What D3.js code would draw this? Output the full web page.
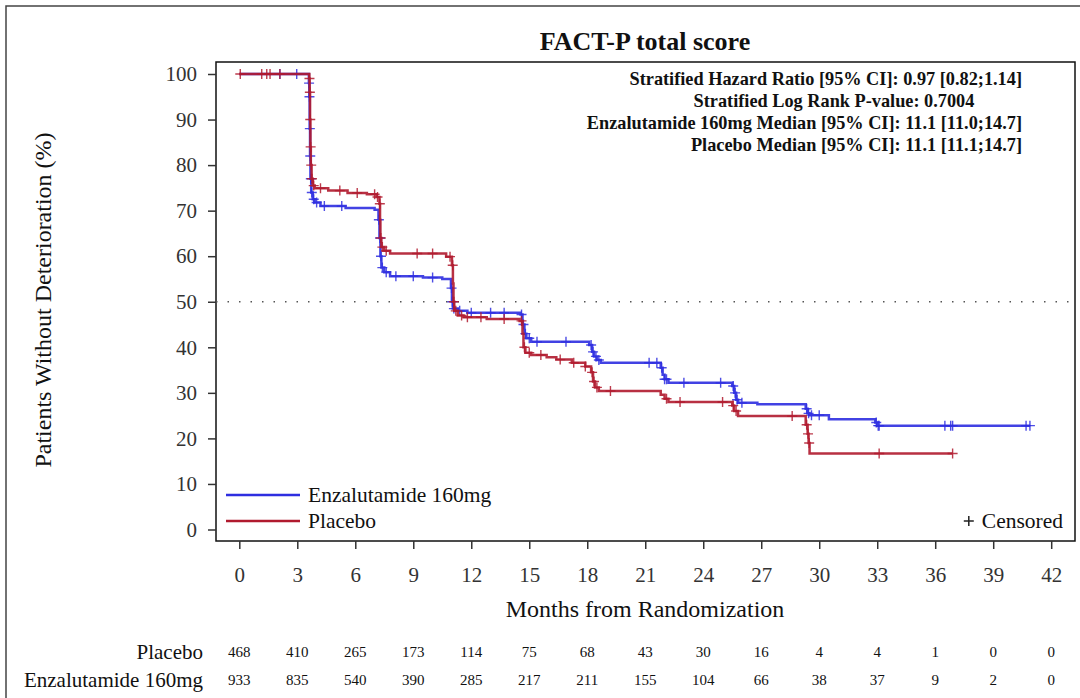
<!DOCTYPE html>
<html>
<head>
<meta charset="utf-8">
<script src="https://cdn.jsdelivr.net/npm/d3@7"></script>
<style>
  body { margin: 0; background: #fff; }
  svg text { font-family: "Liberation Serif", "Times New Roman", serif; }
</style>
</head>
<body>
<div id="container"></div>
<script>
// KM steps: [month, % without deterioration from that month on]
const placeboSteps = [[0,100],[3.62,99],[3.64,96],[3.66,90],[3.68,84],[3.70,80],[3.74,77],[3.8,75.5],[3.9,74.9],[4.6,74.4],[5.6,73.9],[6.6,73.6],[7.1,73.0],[7.25,71.5],[7.28,68],[7.30,64],[7.35,62],[7.5,61.2],[7.8,60.6],[10.7,59.9],[11.0,58],[11.05,54],[11.08,50],[11.12,48],[11.3,47.0],[11.6,46.6],[12.8,46.2],[14.5,45.8],[14.65,43],[14.7,40],[14.8,38.8],[15.1,38.3],[15.9,37.8],[16.4,37.3],[17.2,36.6],[17.9,35.8],[18.2,34.5],[18.3,32.5],[18.4,31.2],[18.6,30.4],[21.8,29.6],[22.0,28.7],[22.2,28.0],[25.5,27.2],[25.6,26],[25.8,24.9],[29.3,23],[29.4,21],[29.45,19],[29.5,16.7],[36.9,16.7]];
const enzaSteps = [[0,100],[3.6,98],[3.62,95],[3.64,88],[3.66,82],[3.68,77],[3.72,74],[3.8,72.5],[3.9,71.8],[4.2,71.0],[5.5,70.6],[7.0,70.2],[7.2,68],[7.25,64],[7.3,60],[7.35,57.5],[7.5,56.5],[7.8,55.6],[9.5,55.3],[10.5,55.0],[10.95,53],[11.0,50],[11.05,48.5],[11.3,48.0],[11.8,47.6],[14.55,47.2],[14.65,45],[14.75,43],[14.85,42],[15.1,41.2],[18.1,40.5],[18.25,39],[18.35,38],[18.5,37.2],[18.7,36.6],[21.8,35.5],[21.9,34],[22.0,33],[22.2,32.2],[25.5,31.5],[25.6,30],[25.7,28.5],[25.8,27.8],[26.8,27.5],[29.3,26.5],[29.4,25.5],[29.5,25.1],[30.5,24.2],[32.9,23.5],[33.0,22.8],[40.9,22.8]];
// censoring times (months)
const placeboCensor = [0.05,1.16,1.42,1.59,2.1,3.63,3.65,3.67,3.69,3.72,3.76,3.85,4.2,5.2,6.1,7.0,7.15,7.27,7.32,7.4,7.6,9.2,10.0,10.9,11.04,11.1,11.2,11.5,11.8,12.5,13.7,14.6,14.75,15.0,15.6,16.6,17.3,17.9,18.25,18.35,18.5,19.2,22.1,22.8,25.0,25.55,25.7,28.6,29.35,29.42,29.48,33.1,36.9];
const enzaCensor = [2.1,2.97,3.61,3.63,3.65,3.67,3.7,3.75,3.85,4.0,4.4,5.3,7.22,7.28,7.33,7.4,7.6,8.1,9.0,10.0,10.98,11.02,11.1,11.4,12.0,13.0,13.7,14.6,14.7,14.8,15.0,15.4,16.9,18.2,18.3,18.45,18.6,21.2,21.6,21.85,22.0,22.1,23.0,24.9,25.55,25.65,25.75,26.0,29.35,29.45,29.6,30.0,32.95,33.05,33.1,36.5,36.8,36.9,40.7,40.9];
// numbers at risk
const xTicks = [0,3,6,9,12,15,18,21,24,27,30,33,36,39,42];
const yTicks = [0,10,20,30,40,50,60,70,80,90,100];
const placeboRisk = [468,410,265,173,114,75,68,43,30,16,4,4,1,0,0];
const enzaRisk = [933,835,540,390,285,217,211,155,104,66,38,37,9,2,0];
const statLines = ["Stratified Hazard Ratio [95% CI]: 0.97 [0.82;1.14]",
                   "Stratified Log Rank P-value: 0.7004",
                   "Enzalutamide 160mg Median [95% CI]: 11.1 [11.0;14.7]",
                   "Placebo Median [95% CI]: 11.1 [11.1;14.7]"];

const w = 1080, h = 698;
const blue = "#2e2ee0", red = "#b01a2e";
const svg = d3.select("#container").append("svg").attr("width", w).attr("height", h);

// outer border
svg.append("rect").attr("x",6).attr("y",6).attr("width",1090).attr("height",700)
   .attr("fill","none").attr("stroke","#444").attr("stroke-width",1.5);

const frame = {l:216, r:1075, t:62, b:541};
const xScale = d3.scaleLinear().domain([0,42]).range([239.3, 1051.2]);
const yScale = d3.scaleLinear().domain([0,100]).range([529.5, 74]);

// title
svg.append("text").text("FACT-P total score").attr("x",645).attr("y",50)
   .attr("text-anchor","middle").style("font-size","26px").style("font-weight","bold").attr("fill","#111");

// frame
svg.append("rect").attr("x",frame.l).attr("y",frame.t).attr("width",frame.r-frame.l).attr("height",frame.b-frame.t)
   .attr("fill","none").attr("stroke","#111").attr("stroke-width",1.5);

// axes
const yAxis = d3.axisLeft(yScale).tickValues(yTicks).tickSize(8).tickPadding(11);
const gy = svg.append("g").attr("transform","translate("+frame.l+",0)").call(yAxis);
const xAxis = d3.axisBottom(xScale).tickValues(xTicks).tickSize(8).tickPadding(18);
const gx = svg.append("g").attr("transform","translate(0,"+frame.b+")").call(xAxis);
[gy, gx].forEach(g => {
  g.select(".domain").remove();
  g.selectAll(".tick line").attr("stroke","#333").attr("stroke-width",1.5);
  g.selectAll(".tick text").attr("fill","#333").style("font-size","21px")
   .style("font-family","'Liberation Serif', serif");
});

// axis labels
svg.append("text").text("Patients Without Deterioration (%)")
   .attr("transform","rotate(-90)").attr("x",-300).attr("y",51)
   .attr("text-anchor","middle").style("font-size","24px").attr("fill","#111");
svg.append("text").text("Months from Randomization").attr("x",645).attr("y",617)
   .attr("text-anchor","middle").style("font-size","24px").attr("fill","#111");

// 50% reference
svg.append("line").attr("x1",frame.l).attr("x2",frame.r).attr("y1",yScale(50)).attr("y2",yScale(50))
   .attr("stroke","#555").attr("stroke-width",1.5).attr("stroke-dasharray","1.5,10");

// stats
const statX = [1022, 834, 1022, 1022];
const statAnchor = ["end","middle","end","end"];
statLines.forEach((s,i) => {
  svg.append("text").text(s).attr("x",statX[i]).attr("y",85 + i*22)
     .attr("text-anchor",statAnchor[i]).style("font-size","18.3px").style("font-weight","bold").attr("fill","#111");
});

// curves
const line = d3.line().x(d => xScale(d[0])).y(d => yScale(d[1])).curve(d3.curveStepAfter);
function survAt(steps, t) {
  let v = steps[0][1];
  steps.forEach(s => { if (s[0] <= t) v = s[1]; });
  return v;
}
const plus = "M-5,0H5M0,-5V5";
function drawArm(steps, censor, col) {
  svg.append("path").datum(steps).attr("d", line).attr("fill","none")
     .attr("stroke",col).attr("stroke-width",2.5).attr("stroke-opacity",0.9);
  svg.append("g").selectAll("path").data(censor).enter().append("path")
     .attr("d", plus)
     .attr("transform", t => "translate(" + xScale(t) + "," + yScale(survAt(steps, t)) + ")")
     .attr("stroke",col).attr("stroke-width",1.4).attr("fill","none").attr("stroke-opacity",0.85);
}
drawArm(enzaSteps, enzaCensor, blue);
drawArm(placeboSteps, placeboCensor, red);

// legend
svg.append("line").attr("x1",226).attr("x2",300).attr("y1",495).attr("y2",495).attr("stroke",blue).attr("stroke-width",2.5);
svg.append("text").text("Enzalutamide 160mg").attr("x",308).attr("y",502).style("font-size","21.5px").attr("fill","#111");
svg.append("line").attr("x1",226).attr("x2",300).attr("y1",521).attr("y2",521).attr("stroke",red).attr("stroke-width",2.5);
svg.append("text").text("Placebo").attr("x",308).attr("y",528).style("font-size","21.5px").attr("fill","#111");
svg.append("text").text("Censored").attr("x",1063).attr("y",528).attr("text-anchor","end")
   .style("font-size","21.5px").attr("fill","#111").attr("id","cens");
const censW = document.getElementById("cens").getComputedTextLength();
svg.append("path").attr("d",plus).attr("transform","translate(" + (1063 - censW - 13) + ",521)")
   .attr("stroke","#222").attr("stroke-width",1.5);

// numbers at risk
svg.append("text").text("Placebo").attr("x",203).attr("y",659).attr("text-anchor","end").style("font-size","21px").attr("fill","#111");
svg.append("text").text("Enzalutamide 160mg").attr("x",203).attr("y",687).attr("text-anchor","end").style("font-size","21px").attr("fill","#111");
svg.append("g").selectAll("text").data(placeboRisk).enter().append("text")
   .text(d => d).attr("x",(d,i) => xScale(xTicks[i])).attr("y",657)
   .attr("text-anchor","middle").style("font-size","15px").attr("fill","#111");
svg.append("g").selectAll("text").data(enzaRisk).enter().append("text")
   .text(d => d).attr("x",(d,i) => xScale(xTicks[i])).attr("y",685)
   .attr("text-anchor","middle").style("font-size","15px").attr("fill","#111");
</script>
</body>
</html>
